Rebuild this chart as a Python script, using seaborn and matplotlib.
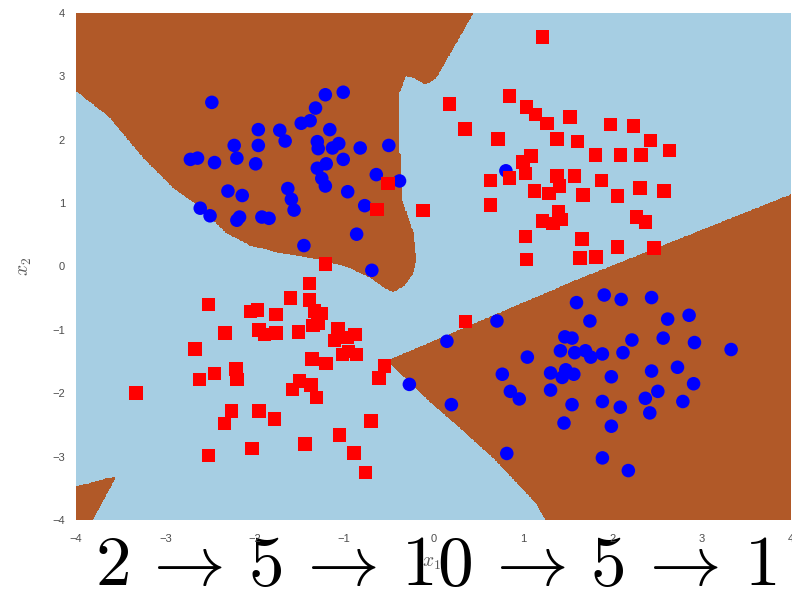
import numpy as np
import pandas as pd
import matplotlib
matplotlib.use("Agg")
import matplotlib.pyplot as plt
from matplotlib.path import Path
import seaborn as sns

# ---- sample points (class 0 = blue circles, class 1 = red squares) ----
blue_x = [-2.48, -1.21, -1.01, -1.32, -1.48, -1.38, -1.96, -1.72, -1.66, -1.16,
          -2.23, -1.96, -1.30, -1.29, -1.13, -1.06, -0.82, -0.50, -2.72, -2.64,
          -2.45, -2.20, -1.99, -1.30, -1.20, -1.01, -1.25, -1.21, -0.64, -0.38,
          -2.30, -2.14, -1.63, -1.59, -1.56, -0.96, -0.77, -2.61, -2.50, -2.20,
          -2.17, -1.92, -1.84, -0.86, -1.45, -0.69, 0.81,
          1.60, 1.91, 2.10, 2.44, 0.71, 1.75, 2.62, 2.86, 0.15, 1.47,
          1.55, 2.22, 2.57, 2.92, 3.33, 1.05, 1.42, 1.58, 1.70, 1.76,
          1.89, 2.12, -0.27, 0.77, 1.31, 1.44, 1.48, 1.57, 1.99, 2.44,
          2.73, 0.86, 0.96, 1.31, 2.51, 2.91, 0.20, 1.55, 1.89, 2.09,
          2.37, 2.42, 2.79, 1.46, 1.99, 0.82, 1.89, 2.18]
blue_y = [2.59, 2.71, 2.75, 2.50, 2.26, 2.30, 2.16, 2.15, 1.98, 2.16,
          1.91, 1.91, 1.97, 1.86, 1.87, 1.94, 1.87, 1.91, 1.69, 1.71,
          1.64, 1.71, 1.62, 1.55, 1.62, 1.69, 1.39, 1.27, 1.45, 1.35,
          1.19, 1.12, 1.23, 1.06, 0.89, 1.18, 0.96, 0.92, 0.80, 0.73,
          0.78, 0.78, 0.76, 0.51, 0.33, -0.06, 1.51,
          -0.57, -0.45, -0.52, -0.49, -0.86, -0.86, -0.83, -0.77, -1.18, -1.11,
          -1.13, -1.16, -1.13, -1.20, -1.31, -1.43, -1.33, -1.36, -1.33, -1.43,
          -1.38, -1.36, -1.86, -1.70, -1.68, -1.75, -1.63, -1.70, -1.74, -1.65,
          -1.59, -1.97, -2.09, -1.95, -1.97, -1.85, -2.18, -2.18, -2.13, -2.22,
          -2.08, -2.31, -2.13, -2.47, -2.52, -2.95, -3.02, -3.22]

red_x = [1.22, 0.18, 0.85, 1.04, 1.14, 1.27, 1.53, 0.35, 0.72, 1.38,
         1.61, 1.98, 2.24, 2.43, 2.64, 1.09, 1.00, 1.03, 0.85, 0.64,
         1.38, 1.58, 1.81, 2.09, 2.32, 1.88, 1.41, 1.13, 1.29, 1.67,
         2.06, 2.31, 2.58, 0.64, -0.12, 1.40, 1.22, 1.34, 1.43, 2.27,
         2.37, 1.03, 1.66, 2.06, 2.47, 1.04, 1.64, 1.82,
         -0.51, -0.63, -1.21, 0.36,
         -1.39, -2.52, -1.60, -1.39, -2.05, -1.97, -1.76, -1.33, -1.26, -1.35,
         -1.29, -2.33, -1.95, -1.89, -1.76, -1.51, -1.07, -1.11, -0.97, -0.88,
         -2.67, -1.36, -1.20, -1.02, -0.95, -0.86, -0.55, -0.61, -3.33, -2.62,
         -2.45, -2.21, -2.20, -1.50, -1.58, -1.37, -1.31, -2.26, -2.34, -1.95,
         -1.78, -0.70, -1.05, -1.44, -2.03, -2.52, -0.89, -0.76]
red_y = [3.62, 2.56, 2.69, 2.52, 2.40, 2.26, 2.36, 2.17, 2.01, 2.01,
         1.97, 2.24, 2.22, 1.99, 1.83, 1.74, 1.65, 1.47, 1.40, 1.36,
         1.43, 1.43, 1.76, 1.76, 1.76, 1.36, 1.27, 1.19, 1.15, 1.13,
         1.11, 1.24, 1.19, 0.97, 0.88, 0.86, 0.72, 0.68, 0.74, 0.78,
         0.70, 0.47, 0.43, 0.31, 0.29, 0.11, 0.13, 0.15,
         1.31, 0.90, 0.04, -0.87,
         -0.27, -0.60, -0.50, -0.53, -0.71, -0.69, -0.76, -0.70, -0.74, -0.93,
         -0.90, -1.05, -1.00, -1.07, -1.05, -1.03, -0.99, -1.17, -1.12, -1.07,
         -1.30, -1.46, -1.53, -1.39, -1.34, -1.39, -1.57, -1.76, -2.00, -1.78,
         -1.69, -1.62, -1.78, -1.81, -1.94, -1.87, -2.07, -2.28, -2.48, -2.28,
         -2.41, -2.44, -2.66, -2.80, -2.87, -2.98, -2.94, -3.25]

# ---- outlines of the regions the network assigns to class 0 ----
region_a_x = [-4.00, -4.00, -3.62, -3.25, -2.91, -2.61, -2.31, -2.05, -1.68, -1.30,
              -0.94, -0.71, -0.55, -0.45, -0.33, -0.24, -0.20, -0.23, -0.36, -0.39,
              -0.39, -0.31, -0.20, -0.09, 0.02, 0.14, 0.44]
region_a_y = [4.00, 2.78, 2.36, 1.73, 1.25, 0.94, 0.53, 0.34, 0.21, 0.13,
              -0.01, -0.17, -0.33, -0.39, -0.30, -0.12, 0.10, 0.53, 1.05, 2.10,
              2.73, 3.02, 2.97, 2.88, 2.97, 3.26, 4.00]
region_b_x = [4.00, 1.60, -0.49, -0.45, -0.05, 0.33, 0.70, 1.15, 1.26, 4.00]
region_b_y = [1.13, -0.22, -1.48, -1.57, -2.11, -2.58, -3.05, -3.73, -4.00, -4.00]
region_c_x = [-4.00, -4.00, -3.56, -3.82]
region_c_y = [-4.00, -3.48, -3.32, -4.00]

ticks = [-4, -3, -2, -1, 0, 1, 2, 3, 4]
architecture = (r"$2\,\rightarrow\,5\,\rightarrow\,10\,\rightarrow\,5"
                r"\,\rightarrow\,1$")

sns.set_theme(style="white")
plt.rcParams["font.family"] = ["Liberation Sans", "DejaVu Sans"]
plt.rcParams["mathtext.fontset"] = "cm"

fig = plt.figure(figsize=(7.92, 5.94), dpi=100)
ax = fig.add_axes([76 / 792, 74 / 594, 715 / 792, 507 / 594])

# decision surface evaluated on a dense grid
gx = np.linspace(-4, 4, 600)
gy = np.linspace(-4, 4, 600)
xx, yy = np.meshgrid(gx, gy)
pts = np.column_stack([xx.ravel(), yy.ravel()])
inside = np.zeros(len(pts), dtype=bool)
for rx, ry in [(region_a_x, region_a_y), (region_b_x, region_b_y),
               (region_c_x, region_c_y)]:
    inside |= Path(np.column_stack([rx, ry])).contains_points(pts)
zz = inside.reshape(xx.shape).astype(float)
pal = plt.cm.Paired
ax.contourf(xx, yy, zz, levels=[-0.5, 0.5, 1.5], colors=[pal(0.0), pal(1.0)])

df = pd.DataFrame({
    "x1": blue_x + red_x,
    "x2": blue_y + red_y,
    "label": ["0"] * len(blue_x) + ["1"] * len(red_x),
})
sns.scatterplot(data=df, x="x1", y="x2", hue="label", style="label",
                palette={"0": "#0000ff", "1": "#ff0000"},
                markers={"0": "o", "1": "s"}, s=95, linewidth=0,
                legend=False, ax=ax, zorder=3)

ax.set_xlim(-4, 4)
ax.set_ylim(-4, 4)
ax.set_xticks(ticks)
ax.set_yticks(ticks)
for s in ax.spines.values():
    s.set_visible(False)
ax.tick_params(axis="x", length=0, pad=10, labelsize=8, labelcolor="0.3")
ax.tick_params(axis="y", length=0, pad=8, labelsize=8, labelcolor="0.3")

ax.set_xlabel(r"$x_1$", fontsize=14, color="0.35", va="center")
ax.set_ylabel(r"$x_2$", fontsize=14, color="0.35", va="center")
ax.xaxis.set_label_coords(0.497, -0.085)
ax.yaxis.set_label_coords(-0.071, 0.5)

fig.text(436 / 792, 1 - 585 / 594, architecture, fontsize=51.5,
         ha="center", va="baseline", color="black", zorder=-1)

fig.savefig("out.png", dpi=100)
